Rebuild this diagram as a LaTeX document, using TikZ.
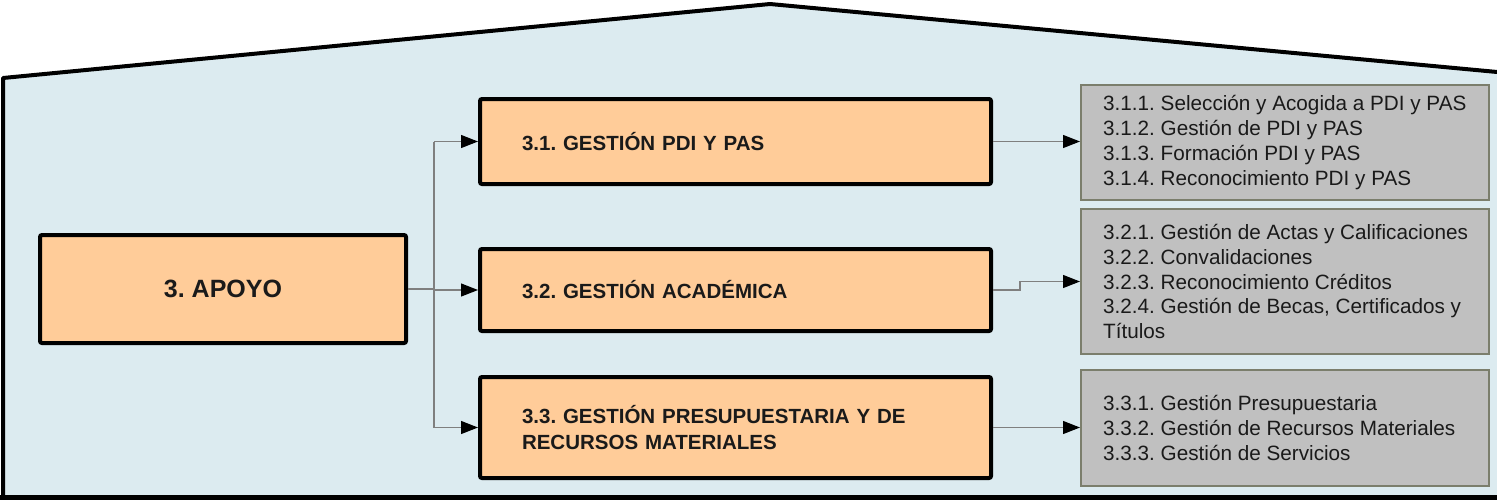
\documentclass[tikz,border=0pt]{standalone}
\usepackage{fontspec}
\setmainfont{Liberation Sans}
\frenchspacing
\usetikzlibrary{arrows.meta,calc}
\definecolor{housebg}{HTML}{DCEBF0}
\definecolor{orangebox}{HTML}{FFCC99}
\definecolor{graybox}{HTML}{C0C0C0}
\definecolor{grayedge}{HTML}{7B7E6C}
\definecolor{conn}{HTML}{7F7F7F}
\definecolor{txt}{HTML}{1A1A1A}
\tikzset{
  mainbox/.style={draw=black, line width=4pt, fill=orangebox, rounded corners=2pt,
    inner sep=0pt, text=txt},
  subbox/.style={mainbox, align=left, text width=427pt,
    font=\fontsize{20.5}{25.5}\selectfont\bfseries},
  listbox/.style={draw=grayedge, line width=2pt, fill=graybox, inner sep=0pt,
    minimum width=408pt},
  listtext/.style={anchor=west, align=left, inner sep=0pt, text=txt,
    font=\fontsize{20.7}{24.7}\selectfont},
  conline/.style={draw=conn, line width=1.2pt},
  arr/.style={conline, -{Triangle[length=17pt,width=13pt,color=black,fill=black]}},
}
\begin{document}
\begin{tikzpicture}[x=1pt,y=-1pt]
\useasboundingbox (0,0) rectangle (1497,499);
% house
\fill[housebg] (3,496) -- (3,78) -- (770,4) -- (1540,76) -- (1540,496) -- cycle;
\draw[black, line width=4pt, line join=round] (3,500) -- (3,78) -- (770,4) -- (1540,76);
\draw[black, line width=5pt] (0,497) -- (1540,497);
% main box
\node[mainbox, minimum width=366pt, minimum height=108pt,
  font=\fontsize{25}{30}\selectfont\bfseries] (a) at (223,289) {3. APOYO};
% sub boxes
\node[subbox, minimum width=511pt, minimum height=85pt] (b1) at (735.5,141.5) {3.1. GESTIÓN PDI Y PAS};
\node[subbox, minimum width=511pt, minimum height=82pt] (b2) at (735.5,290) {3.2. GESTIÓN ACADÉMICA};
\node[subbox, minimum width=511pt, minimum height=101pt] (b3) at (735.5,427.5) {3.3. GESTIÓN PRESUPUESTARIA Y DE\\RECURSOS MATERIALES};
% list boxes
\node[listbox, minimum height=115pt] (g1) at (1285,142.5) {};
\node[listbox, minimum height=145pt] (g2) at (1285,281.5) {};
\node[listbox, minimum height=116pt] (g3) at (1285,428) {};
\node[listtext] (t1) at ($(g1.west)+(23,0)$) {3.1.1. Selección y Acogida a PDI y PAS\\3.1.2. Gestión de PDI y PAS\\3.1.3. Formación PDI y PAS\\3.1.4. Reconocimiento PDI y PAS};
\node[listtext] (t2) at ($(g2.west)+(23,0)$) {3.2.1. Gestión de Actas y Calificaciones\\3.2.2. Convalidaciones\\3.2.3. Reconocimiento Créditos\\3.2.4. Gestión de Becas, Certificados y\\Títulos};
\node[listtext] (t3) at ($(g3.west)+(23,0)$) {3.3.1. Gestión Presupuestaria\\3.3.2. Gestión de Recursos Materiales\\3.3.3. Gestión de Servicios};
% connectors
\coordinate (j) at (434,289);
\draw[conline] (a.east) -- (j);
\draw[conline] (j |- b1.west) -- (j |- b3.west);
\draw[arr] (j |- b1.west) -- (b1.west);
\draw[arr] (j |- b2.west) -- (b2.west);
\draw[arr] (j |- b3.west) -- (b3.west);
\draw[arr] (b1.east) -- (b1.east -| g1.west);
\draw[arr] (b2.east) -- ++(27,0) |- (g2.west);
\draw[arr] (b3.east) -- (b3.east -| g3.west);
\end{tikzpicture}
\end{document}
